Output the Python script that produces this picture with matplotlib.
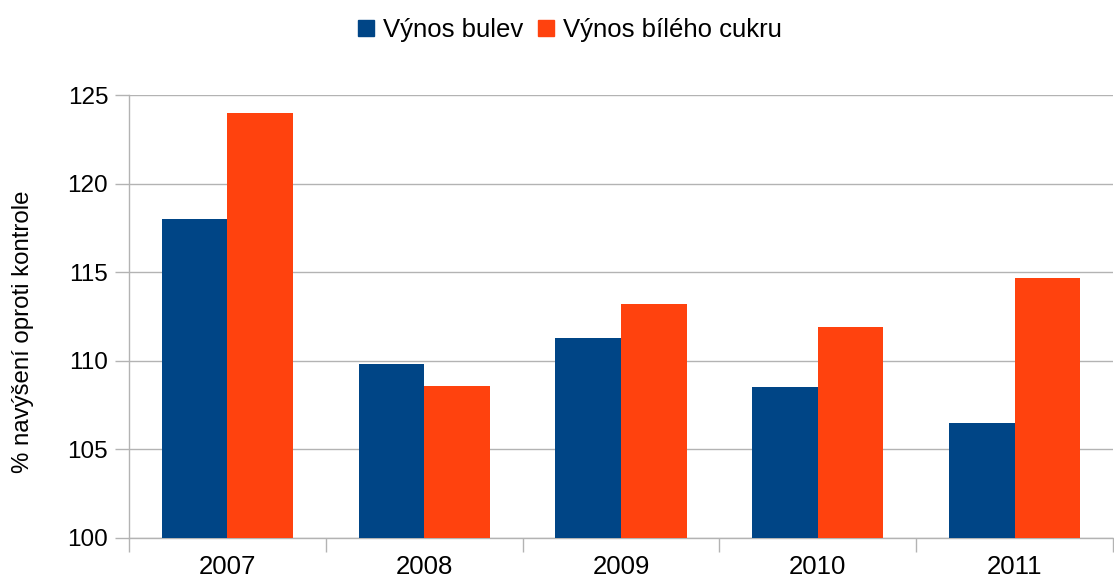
import numpy as np
import matplotlib
matplotlib.use("Agg")
from matplotlib import pyplot as plt
from matplotlib.patches import Patch

plt.rcParams['font.family'] = ['Liberation Sans', 'DejaVu Sans']

years = ['2007', '2008', '2009', '2010', '2011']
vynos_bulev = [118.0, 109.8, 111.3, 108.5, 106.5]
vynos_cukru = [124.0, 108.6, 113.2, 111.9, 114.7]

blue = '#004586'
orange = '#ff420e'
grid_col = '#b3b3b3'

fig = plt.figure(figsize=(11.14, 5.85), dpi=100)
ax = fig.add_axes([129/1114, 1 - 538/585, (1113 - 129)/1114, (538 - 95)/585])

x = np.arange(len(years))
w = 1/3
ax.bar(x + 0.5 - w/2, vynos_bulev, width=w, color=blue, zorder=3)
ax.bar(x + 0.5 + w/2, vynos_cukru, width=w, color=orange, zorder=3)

ax.set_xlim(0, len(years))
ax.set_ylim(100, 125)
ax.set_yticks([100, 105, 110, 115, 120, 125])
ax.yaxis.grid(True, color=grid_col, linewidth=1, zorder=0)

# category labels centred, tick marks at the boundaries
ax.set_xticks(np.arange(len(years) + 1))
ax.set_xticklabels([])
ax.set_xticks(x + 0.5, minor=True)
ax.set_xticklabels(years, minor=True)
ax.tick_params(axis='x', which='minor', length=0, pad=12, labelsize=18.5)
ax.tick_params(axis='x', which='major', length=10, color=grid_col, width=1)
ax.tick_params(axis='y', length=10, color=grid_col, width=1, labelsize=17.5, pad=5)

for s in ['top', 'right']:
    ax.spines[s].set_visible(False)
for s in ['left', 'bottom']:
    ax.spines[s].set_color(grid_col)
    ax.spines[s].set_linewidth(1)

fig.text(23/1114, 1 - 332/585, '% navýšení oproti kontrole', fontsize=17.3,
         rotation=90, ha='center', va='center')

handles = [Patch(color=blue, label='Výnos bulev'),
           Patch(color=orange, label='Výnos bílého cukru')]
fig.legend(handles=handles, loc='center', bbox_to_anchor=(570/1114, 1 - 30/585),
           ncol=2, frameon=False, fontsize=18.5, handlelength=0.6, handleheight=0.6,
           handletextpad=0.35, columnspacing=0.6)

fig.savefig('out.png', dpi=100)
